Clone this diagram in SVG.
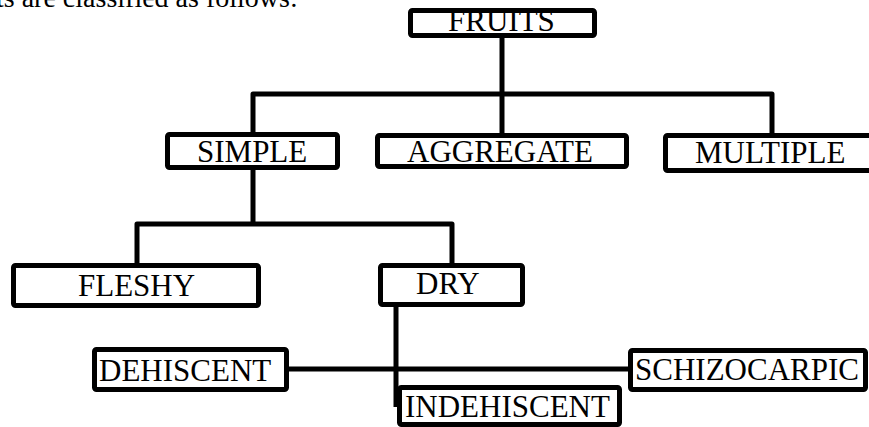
<svg xmlns="http://www.w3.org/2000/svg" width="869" height="427" viewBox="0 0 869 427">
<style>
.box{fill:#fff;stroke:#000;stroke-width:5;stroke-linejoin:round}
.lbl{font-family:"Liberation Serif","Times New Roman",serif;font-size:31px;fill:#000}
.cap{font-family:"Liberation Serif","Times New Roman",serif;font-size:28px;fill:#000}
.con{fill:none;stroke:#000;stroke-width:5;stroke-linejoin:round;stroke-linecap:butt}
</style>
<rect width="869" height="427" fill="#fff"/>
<text class="cap" x="-4" y="7">ts are classified as follows:</text>
<g id="connectors">
<path class="con" d="M502 38 V133"/>
<path class="con" d="M253 132 V94 H772 V133"/>
<path class="con" d="M253 170 V224"/>
<path class="con" d="M137 263 V224 H452 V263"/>
<path class="con" d="M396 307 V407"/>
<path class="con" d="M288 369 H629"/>
</g>
<g id="fruits"><rect class="box" x="410.5" y="10.5" width="184" height="25" rx="2"/><text class="lbl" x="448" y="31">FRUITS</text></g>
<g id="simple"><rect class="box" x="167.5" y="134.5" width="170" height="33" rx="2"/><text class="lbl" x="197" y="162">SIMPLE</text></g>
<g id="aggregate"><rect class="box" x="377.5" y="135.5" width="249" height="31" rx="2"/><text class="lbl" x="407" y="162">AGGREGATE</text></g>
<g id="multiple"><rect class="box" x="665.5" y="135.5" width="215" height="35" rx="2"/><text class="lbl" x="695" y="163">MULTIPLE</text></g>
<g id="fleshy"><rect class="box" x="13.5" y="265.5" width="245" height="40" rx="2"/><text class="lbl" x="78" y="296">FLESHY</text></g>
<g id="dry"><rect class="box" x="380.5" y="265.5" width="142" height="39" rx="2"/><text class="lbl" x="416" y="294">DRY</text></g>
<g id="dehiscent"><rect class="box" x="94.5" y="349.5" width="192" height="40" rx="2"/><text class="lbl" x="99" y="381">DEHISCENT</text></g>
<g id="schizocarpic"><rect class="box" x="630.5" y="350.5" width="235" height="39" rx="2"/><text class="lbl" x="635" y="380">SCHIZOCARPIC</text></g>
<g id="indehiscent"><rect class="box" x="399.5" y="387.5" width="220" height="37" rx="2"/><text class="lbl" x="405" y="417">INDEHISCENT</text></g>
</svg>
